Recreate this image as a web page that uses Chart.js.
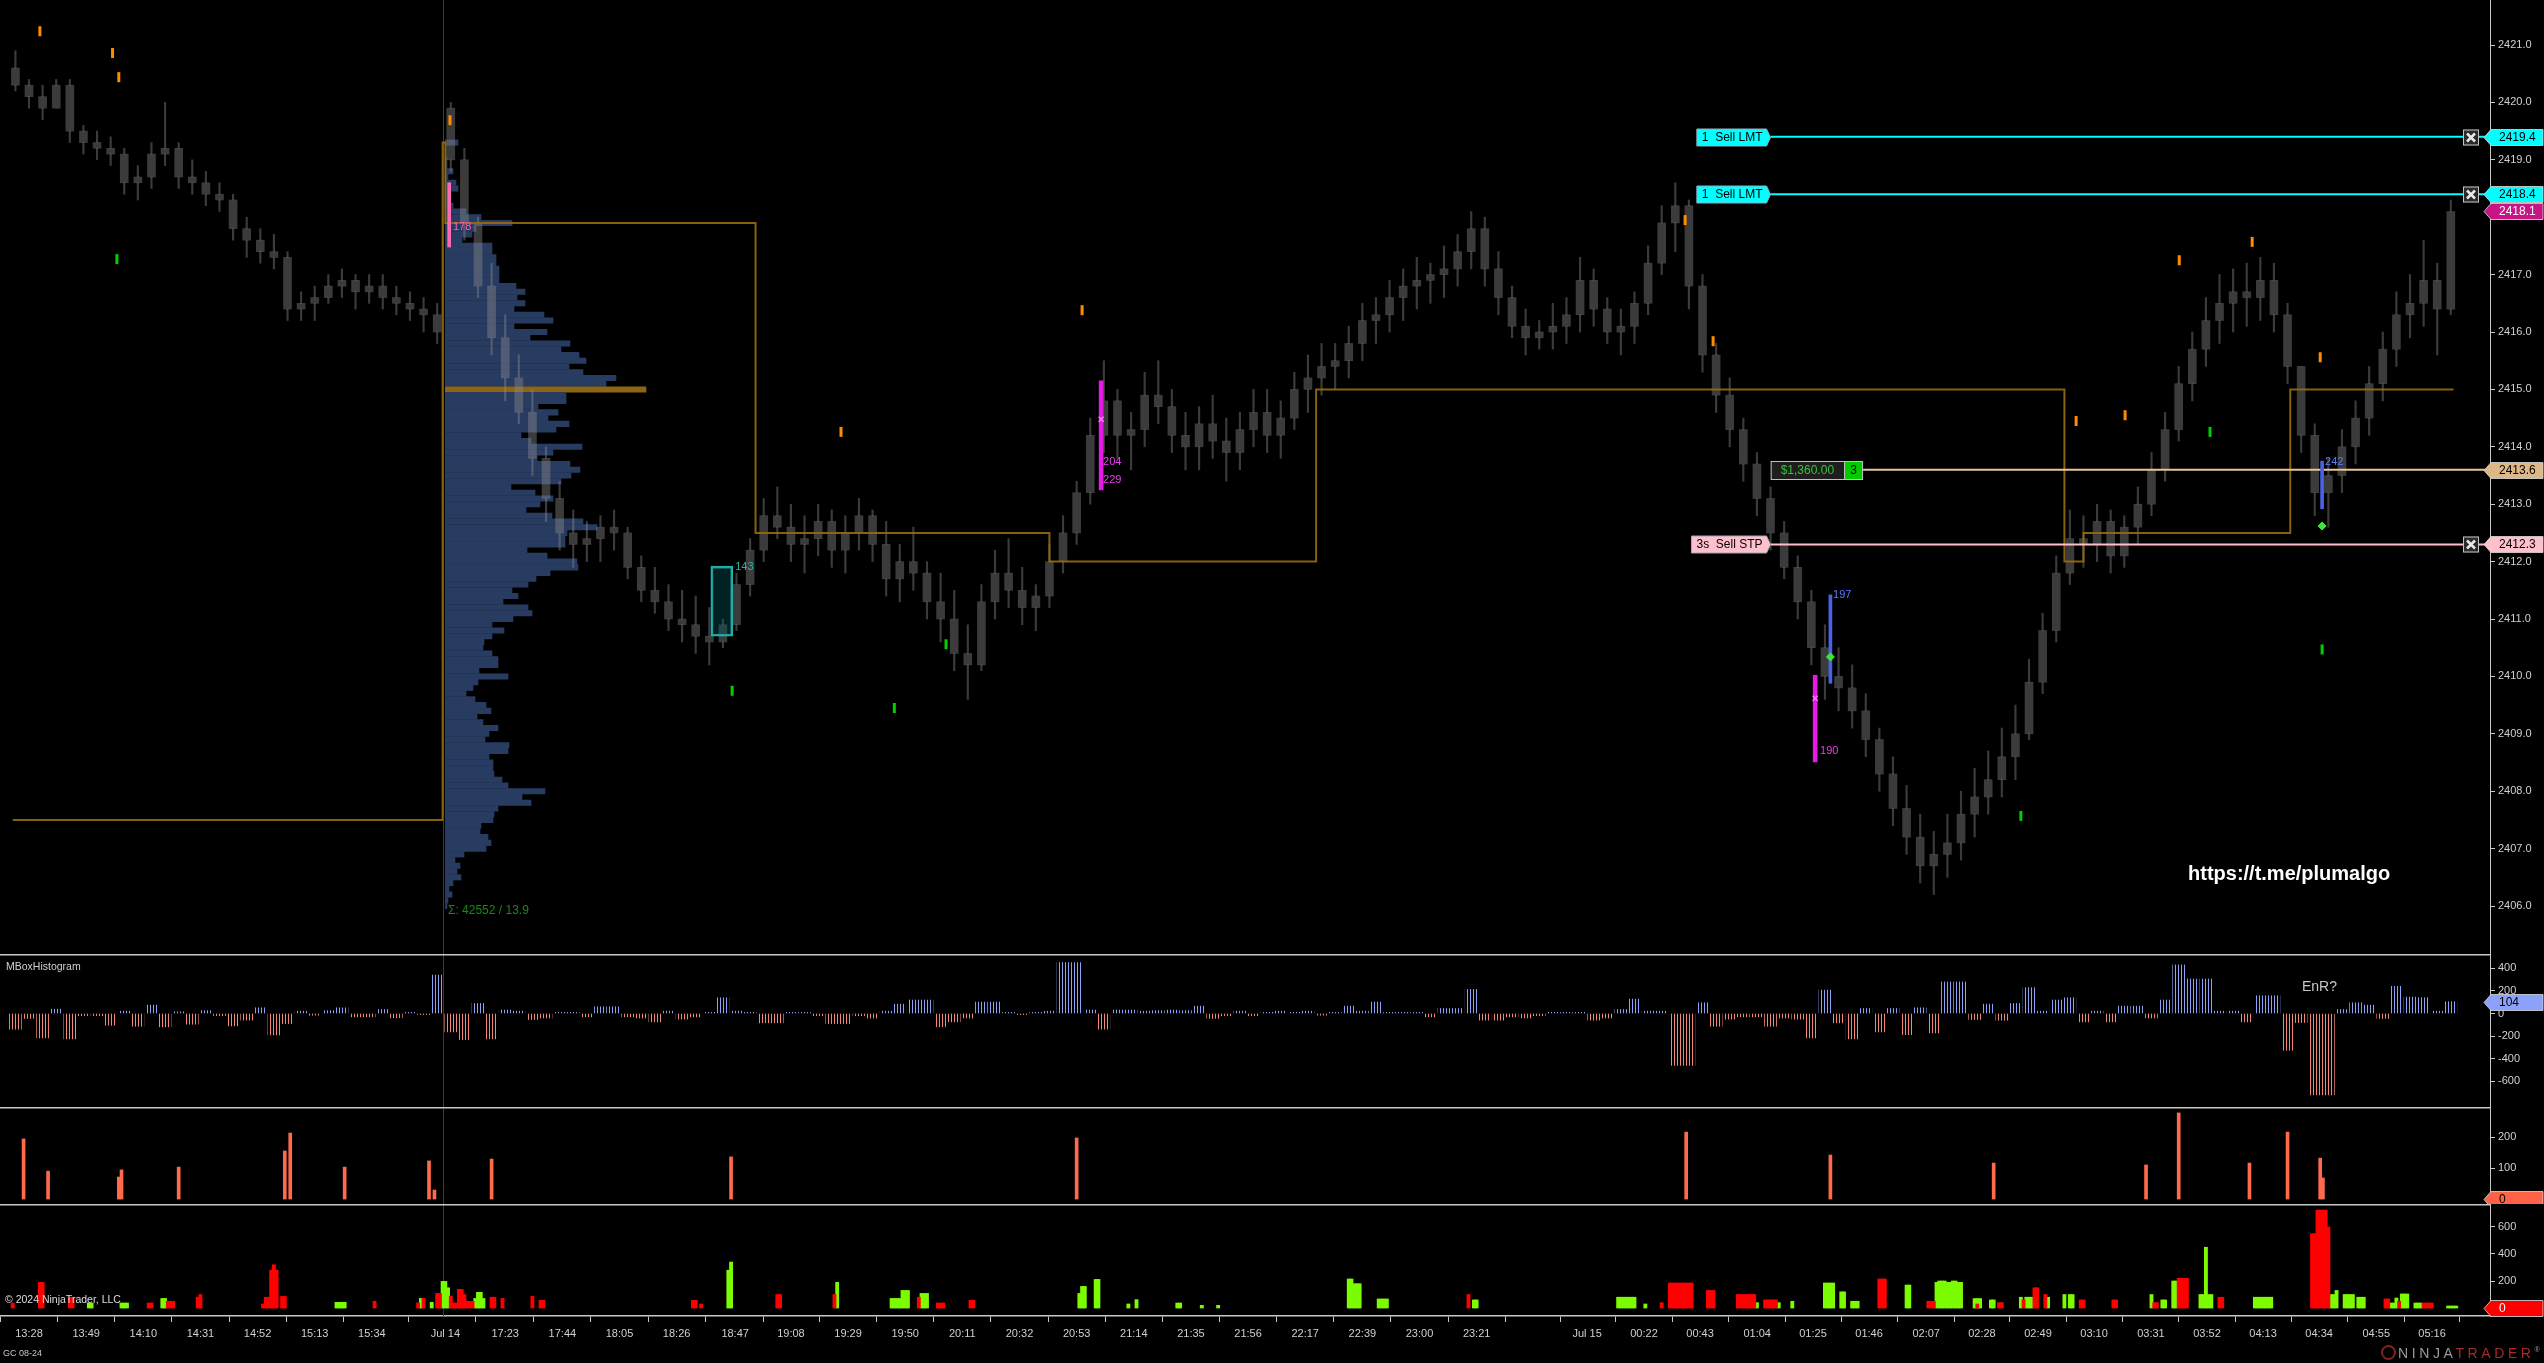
<!DOCTYPE html>
<html>
<head>
<meta charset="utf-8">
<title>GC 08-24</title>
<script src="https://cdn.jsdelivr.net/npm/chart.js@4.4.1/dist/chart.umd.min.js"></script>
<style>
  html, body { margin: 0; padding: 0; background: #000; }
  #wrap { position: relative; width: 2544px; height: 1363px; background: #000; overflow: hidden;
          font-family: "Liberation Sans", Arial, sans-serif; }
  #wrap canvas { position: absolute; left: 0; }
  .txt { position: absolute; white-space: nowrap; line-height: 1; }
</style>
</head>
<body>
<div id="wrap">
  <canvas id="profile" width="2000" height="954" style="left:445px;top:0;z-index:1"></canvas>
  <canvas id="price" width="2544" height="954" style="top:0;z-index:2"></canvas>
  <canvas id="mbox" width="2544" height="153" style="top:954px"></canvas>
  <canvas id="spikes" width="2544" height="97" style="top:1107px"></canvas>
  <canvas id="vol" width="2544" height="159" style="top:1204px"></canvas>

  <div class="txt" style="left:448px;top:904px;font-size:12px;color:#138c13;z-index:3">Σ: 42552 / 13.9</div>
  <div class="txt" style="left:2188px;top:863px;font-size:20px;font-weight:bold;color:#fff;z-index:3">https://t.me/plumalgo</div>
  <div class="txt" style="left:6px;top:961px;font-size:10.5px;color:#d0d0d0;z-index:3">MBoxHistogram</div>
  <div class="txt" style="left:2302px;top:979px;font-size:14px;color:#c8c8c8;z-index:3">EnR?</div>
  <div class="txt" style="left:5px;top:1294px;font-size:10.5px;color:#dcdcdc;z-index:3">© 2024 NinjaTrader, LLC</div>
  <div class="txt" style="left:3px;top:1349px;font-size:9px;color:#c8c8c8;z-index:3">GC 08-24</div>
  <div class="txt" style="left:2381px;top:1345px;width:11px;height:11px;border:2px solid #7a2424;border-radius:50%;z-index:3"></div>
  <div class="txt" style="left:2398px;top:1346px;font-size:14px;letter-spacing:3.6px;color:#9a9a9a;z-index:3">NINJA<span style="color:#a52a2a">TRADER</span><span style="font-size:7px;vertical-align:top">®</span></div>
</div>

<script>
// ---------- data (x values are bar numbers, one bar per minute) ----------
const tickPos = [0, 21, 42, 63, 84, 105, 126, 153, 175, 196, 217, 238, 259.5, 280, 301, 322, 343, 364, 385, 406,
  427, 448, 469, 490, 511, 532, 553, 572.6, 593.5, 614.1, 635.1, 655.6, 676.2, 697.2, 717.7, 738.3, 758.9,
  779.8, 800.4, 821, 841.6, 862.6, 883.1];
const tickLabels = ['13:28', '13:49', '14:10', '14:31', '14:52', '15:13', '15:34', 'Jul 14', '17:23', '17:44',
  '18:05', '18:26', '18:47', '19:08', '19:29', '19:50', '20:11', '20:32', '20:53', '21:14', '21:35', '21:56',
  '22:17', '22:39', '23:00', '23:21', '', 'Jul 15', '00:22', '00:43', '01:04', '01:25', '01:46', '02:07',
  '02:28', '02:49', '03:10', '03:31', '03:52', '04:13', '04:34', '04:55', '05:16'];
const priceTicks = [2406, 2407, 2408, 2409, 2410, 2411, 2412, 2413, 2414, 2415, 2416, 2417, 2418, 2419, 2420, 2421];
const sessionBreak = 152;

// 5-minute candles, Friday session (first bar -5) and Sunday session (first bar 155)
const sessionStart = [-5, 155];
const sessionOpen = [2420.6, 2419.9];
const fridayClose = [2420.3, 2420.1, 2419.9, 2420.3, 2419.5, 2419.3, 2419.2, 2419.1, 2418.6, 2418.7,
  2419.1, 2419.2, 2418.7, 2418.6, 2418.4, 2418.3, 2417.8, 2417.6, 2417.4, 2417.3,
  2416.4, 2416.5, 2416.6, 2416.8, 2416.9, 2416.7, 2416.8, 2416.6, 2416.5, 2416.4, 2416.3, 2416.0];
const fridayHigh = [2420.9, 2420.4, 2420.3, 2420.4, 2420.4, 2419.6, 2419.5, 2419.4, 2419.2, 2418.9,
  2419.3, 2420.0, 2419.3, 2419.0, 2418.8, 2418.6, 2418.4, 2418.0, 2417.8, 2417.7,
  2417.4, 2416.7, 2416.8, 2417.0, 2417.1, 2417.0, 2417.0, 2417.0, 2416.8, 2416.7, 2416.6, 2416.5];
const fridayLow = [2420.2, 2419.9, 2419.7, 2419.9, 2419.3, 2419.1, 2419.0, 2418.9, 2418.4, 2418.3,
  2418.5, 2418.9, 2418.5, 2418.4, 2418.2, 2418.1, 2417.6, 2417.3, 2417.2, 2417.1,
  2416.2, 2416.2, 2416.2, 2416.5, 2416.6, 2416.4, 2416.5, 2416.4, 2416.3, 2416.2, 2416.0, 2415.8];
const sundayClose = [2419.0, 2417.9, 2416.8, 2415.9, 2415.2, 2414.6, 2413.8, 2413.1, 2412.5, 2412.3,
  2412.4, 2412.6, 2412.5, 2411.9, 2411.5, 2411.3, 2411.0, 2410.9, 2410.7, 2410.6,
  2410.9, 2411.6, 2412.2, 2412.8, 2412.6, 2412.3, 2412.4, 2412.7, 2412.2, 2412.5,
  2412.8, 2412.3, 2411.7, 2412.0, 2411.8, 2411.3, 2411.0, 2410.4, 2410.2, 2411.3,
  2411.8, 2411.5, 2411.2, 2411.4, 2412.0, 2412.5, 2413.2, 2414.2, 2414.8, 2414.2,
  2414.3, 2414.9, 2414.7, 2414.2, 2414.0, 2414.4, 2414.1, 2413.9, 2414.3, 2414.6,
  2414.2, 2414.5, 2415.0, 2415.2, 2415.4, 2415.5, 2415.8, 2416.2, 2416.3, 2416.6,
  2416.8, 2416.9, 2417.0, 2417.1, 2417.4, 2417.8, 2417.1, 2416.6, 2416.1, 2415.9,
  2416.0, 2416.1, 2416.3, 2416.9, 2416.4, 2416.0, 2416.1, 2416.5, 2417.2, 2417.9,
  2418.2, 2416.8, 2415.6, 2414.9, 2414.3, 2413.7, 2413.1, 2412.5, 2411.9, 2411.3,
  2410.5, 2410.0, 2409.8, 2409.4, 2408.9, 2408.3, 2407.7, 2407.2, 2406.7, 2406.9,
  2407.1, 2407.6, 2407.9, 2408.2, 2408.6, 2409.0, 2409.9, 2410.8, 2411.8, 2412.4,
  2412.3, 2412.7, 2412.1, 2412.6, 2413.0, 2413.6, 2414.3, 2415.1, 2415.7, 2416.2,
  2416.5, 2416.7, 2416.6, 2416.9, 2416.3, 2415.4, 2414.2, 2413.2, 2413.5, 2414.0,
  2414.5, 2415.1, 2415.7, 2416.3, 2416.5, 2416.9, 2416.4, 2418.1];
const sundayHigh = [2420.0, 2419.2, 2418.0, 2417.2, 2416.3, 2415.6, 2415.0, 2414.0, 2413.4, 2412.9,
  2412.7, 2412.8, 2412.9, 2412.6, 2412.1, 2411.9, 2411.6, 2411.5, 2411.4, 2411.2,
  2411.0, 2411.8, 2412.4, 2413.1, 2413.3, 2413.0, 2412.8, 2413.0, 2412.9, 2412.8,
  2413.1, 2412.9, 2412.7, 2412.3, 2412.6, 2412.0, 2411.8, 2411.5, 2410.9, 2411.6,
  2412.2, 2412.4, 2411.9, 2411.6, 2412.3, 2412.8, 2413.4, 2414.5, 2415.5, 2415.0,
  2414.6, 2415.3, 2415.5, 2415.0, 2414.6, 2414.7, 2414.9, 2414.5, 2414.6, 2415.0,
  2415.0, 2414.8, 2415.3, 2415.6, 2415.8, 2415.8, 2416.1, 2416.5, 2416.6, 2416.9,
  2417.1, 2417.3, 2417.2, 2417.5, 2417.7, 2418.1, 2418.0, 2417.4, 2416.8, 2416.4,
  2416.2, 2416.5, 2416.6, 2417.3, 2417.1, 2416.6, 2416.4, 2416.7, 2417.5, 2418.2,
  2418.6, 2418.3, 2417.0, 2415.8, 2415.2, 2414.5, 2413.9, 2413.3, 2412.7, 2412.1,
  2411.5, 2410.9, 2410.5, 2410.2, 2409.7, 2409.1, 2408.6, 2408.1, 2407.6, 2407.3,
  2407.6, 2408.0, 2408.4, 2408.7, 2409.1, 2409.5, 2410.3, 2411.1, 2412.1, 2412.9,
  2412.8, 2413.0, 2412.9, 2412.8, 2413.3, 2413.9, 2414.6, 2415.4, 2416.0, 2416.6,
  2417.0, 2417.1, 2417.2, 2417.3, 2417.2, 2416.5, 2415.4, 2414.4, 2413.8, 2414.3,
  2414.8, 2415.4, 2416.0, 2416.7, 2417.0, 2417.6, 2417.2, 2418.3];
const sundayLow = [2418.8, 2417.6, 2416.6, 2415.6, 2414.8, 2414.4, 2413.5, 2412.7, 2412.2, 2411.9,
  2412.0, 2412.0, 2412.2, 2411.7, 2411.3, 2411.1, 2410.8, 2410.6, 2410.4, 2410.2,
  2410.5, 2410.8, 2411.4, 2412.0, 2412.4, 2412.0, 2411.8, 2412.1, 2411.9, 2411.8,
  2412.2, 2412.0, 2411.4, 2411.3, 2411.5, 2411.0, 2410.6, 2410.1, 2409.6, 2410.1,
  2411.0, 2411.2, 2410.9, 2410.8, 2411.2, 2411.8, 2412.3, 2413.0, 2413.9, 2413.8,
  2413.6, 2414.0, 2414.4, 2413.9, 2413.6, 2413.6, 2413.8, 2413.4, 2413.6, 2414.0,
  2413.9, 2413.8, 2414.3, 2414.6, 2414.9, 2415.0, 2415.2, 2415.5, 2415.8, 2416.0,
  2416.2, 2416.4, 2416.5, 2416.6, 2416.8, 2417.1, 2416.8, 2416.3, 2415.9, 2415.6,
  2415.7, 2415.7, 2415.8, 2416.0, 2416.1, 2415.8, 2415.6, 2415.8, 2416.3, 2417.0,
  2417.4, 2416.4, 2415.3, 2414.6, 2414.0, 2413.4, 2412.8, 2412.2, 2411.7, 2411.0,
  2410.2, 2409.6, 2409.4, 2409.1, 2408.6, 2408.0, 2407.4, 2406.9, 2406.4, 2406.2,
  2406.5, 2406.8, 2407.2, 2407.6, 2407.9, 2408.2, 2408.9, 2409.7, 2410.6, 2411.6,
  2411.9, 2412.0, 2411.8, 2411.9, 2412.3, 2412.8, 2413.4, 2414.1, 2414.8, 2415.4,
  2415.8, 2416.0, 2416.1, 2416.2, 2416.0, 2415.1, 2413.9, 2412.8, 2412.6, 2413.2,
  2413.7, 2414.2, 2414.8, 2415.4, 2415.9, 2416.1, 2415.6, 2416.3];

// volume profile of the Sunday session, one row per 0.1 from 2419.3 down
const profileTop = 2419.3;
const profileStep = 0.1;
const profileVol = [65, 5, 5, 10, 10, 40, 15, 55, 65, 25,
  25, 40, 105, 180, 335, 155, 135, 85, 235, 235,
  255, 255, 270, 270, 270, 355, 400, 360, 400, 345,
  495, 540, 345, 510, 425, 625, 580, 670, 705, 620,
  690, 855, 805, 1005, 605, 605, 465, 565, 515, 620,
  555, 380, 430, 685, 540, 460, 625, 675, 630, 580,
  330, 450, 540, 475, 405, 535, 690, 760, 610, 600,
  600, 410, 510, 660, 665, 525, 455, 415, 335, 365,
  290, 415, 435, 340, 235, 295, 235, 195, 190, 235,
  265, 265, 170, 315, 165, 140, 105, 150, 205, 230,
  160, 190, 265, 220, 200, 320, 315, 220, 240, 240,
  245, 285, 315, 500, 385, 430, 265, 245, 240, 180,
  175, 215, 230, 205, 95, 50, 75, 60, 80, 40,
  20, 35, 15, 10];

// session value-area / POC step line [bar, price]
const vaLine = [[-6, 2407.5], [152, 2419.3], [153, 2417.9], [267, 2412.5], [375, 2412.0],
  [473, 2415.0], [748, 2412.0], [755, 2412.5], [831, 2415.0], [891, 2415.0]];

// working orders and position
const orderPrices = [2419.4, 2418.4, 2412.3];
const orderText = ['1  Sell LMT', '1  Sell LMT', '3s  Sell STP'];
const orderStart = 640;
const positionPrice = 2413.6;
const positionPnl = '$1,360.00';
const positionQty = '3';
const positionStart = 674;
const lastPrice = 2418.1;

// delta markers [bar, low, high] and labels [bar, price, text]
const pinkDelta = [[154.4, 2417.48, 2418.6]];
const magentaDelta = [[394, 2413.25, 2415.15], [656.4, 2408.51, 2410.02]];
const blueDelta = [[662, 2409.88, 2411.42], [842.7, 2412.92, 2413.75]];
const tealBox = [[254.6, 2410.7, 2411.92]];
const greenDiamonds = [[662, 2410.34], [842.7, 2412.62]];
const deltaCrosses = [[394, 2414.48], [656.4, 2409.62]];
const deltaText = [[155.8, 2417.83, '178'], [259.5, 2411.91, '143'], [394.7, 2413.73, '204'],
  [394.7, 2413.42, '229'], [663, 2411.42, '197'], [658.2, 2408.7, '190'], [843.8, 2413.73, '242']];
const orangeMarks = [[4, 2421.24], [30.7, 2420.86], [33, 2420.44], [154.7, 2419.69], [298.4, 2414.26],
  [387, 2416.38], [608.6, 2417.95], [618.9, 2415.84], [752.3, 2414.45], [770.3, 2414.55],
  [790.2, 2417.25], [817, 2417.57], [842, 2415.56]];
const greenMarks = [[32.3, 2417.27], [258.4, 2409.75], [318, 2409.45], [337, 2410.56],
  [801.5, 2414.26], [842.7, 2410.47], [732, 2407.57]];

// MBoxHistogram, one value per 5-minute candle
const mboxFriday = [-139, -44, -216, 38, -225, -20, -20, -104, 20, -113, 74, -118, 15, -95, 25, -20,
  -110, -59, 50, -190, -89, 20, -15, 25, 50, -30, -30, 35, -38, 10, -10, 340];
const mboxSunday = [-163, -231, 89, -225, 30, 20, -53, -40, 10, 10,
  -30, 59, 59, -30, -40, -74, 20, -50, -30, 10,
  139, 20, 10, -83, -83, 10, 10, -20, -89, -89,
  -20, -40, 20, 83, 119, 119, -118, -74, -40, 101,
  101, 10, -10, 10, 20, 450, 450, 30, -139, 30,
  30, 20, 25, 30, 25, 65, -44, -20, 20, -20,
  10, 20, 10, 20, -15, 10, 65, 20, 101, 10,
  10, 10, -30, 44, 44, 213, -59, -59, -30, -40,
  -20, 10, 10, 10, -59, -40, 35, 127, 20, 20,
  -459, -459, 95, -113, -50, -30, -30, -113, -40, -50,
  -216, 207, -83, -225, 44, -163, 44, -187, 50, -172,
  279, 279, -53, 83, -60, 89, 228, 20, 119, 139,
  -74, 20, -74, 65, 65, -40, 119, 430, 305, 305,
  20, 20, -74, 157, 157, -326, -80, -720, -720, 35,
  95, 74, -44, 240, 145, 140, 20, 104];

// third panel spikes [bar, value]
const spikeSeries = [[-2, 194], [7, 90], [33, 71], [34, 94], [55, 103], [94, 155], [96, 213], [116, 103],
  [147, 123], [149, 29], [170, 129], [258, 136], [385, 197], [609, 216], [662, 142], [722, 116],
  [778, 110], [790, 278], [816, 116], [830, 216], [842, 132], [843, 68]];

// bottom panel volume bars [bar, volume]
const buyVolume = [[22, 37], [23, 37], [34, 37], [35, 37], [36, 37], [49, 71], [50, 71], [113, 42], [114, 42],
  [115, 42], [116, 42], [144, 71], [148, 42], [152, 197], [153, 197], [154, 150], [164, 71], [165, 116],
  [166, 116], [167, 71], [257, 280], [258, 340], [297, 190], [317, 71], [318, 71], [319, 71], [320, 71],
  [321, 130], [322, 130], [323, 130], [328, 108], [329, 108], [330, 108], [386, 108], [387, 160], [388, 160],
  [392, 212], [393, 212], [404, 30], [407, 62], [422, 37], [423, 37], [431, 20], [437, 20], [485, 215],
  [486, 215], [487, 180], [488, 180], [489, 180], [496, 67], [497, 67], [498, 67], [499, 67], [531, 60],
  [532, 60], [584, 80], [585, 80], [586, 80], [587, 80], [588, 80], [589, 80], [590, 80], [594, 30],
  [635, 40], [643, 40], [648, 50], [660, 185], [661, 185], [662, 185], [663, 185], [666, 120], [667, 120],
  [670, 50], [671, 50], [672, 50], [690, 170], [691, 170], [701, 190], [702, 200], [703, 200], [704, 200],
  [705, 190], [706, 190], [707, 200], [708, 200], [709, 190], [710, 190], [715, 70], [716, 70], [717, 70],
  [721, 60], [722, 60], [732, 80], [734, 80], [735, 80], [736, 80], [742, 80], [748, 100], [750, 100],
  [751, 100], [780, 100], [784, 60], [785, 60], [788, 200], [789, 200], [798, 100], [799, 100], [800, 450],
  [801, 100], [802, 100], [818, 80], [819, 80], [820, 80], [821, 80], [822, 80], [823, 80], [824, 80],
  [846, 100], [847, 100], [848, 130], [851, 100], [852, 100], [853, 100], [854, 100], [856, 80], [857, 80],
  [858, 80], [868, 37], [869, 37], [870, 74], [872, 104], [873, 104], [874, 104], [877, 37], [878, 37],
  [879, 37], [889, 15], [890, 15], [891, 15], [892, 15]];
const sellVolume = [[-6, 37], [4, 190], [5, 190], [15, 80], [16, 80], [44, 37], [45, 37], [51, 50], [52, 50],
  [53, 50], [62, 80], [63, 100], [86, 30], [87, 80], [88, 80], [89, 280], [90, 320], [91, 280], [93, 86],
  [94, 86], [127, 50], [143, 37], [145, 71], [150, 108], [151, 108], [155, 89], [156, 37], [157, 37],
  [158, 138], [159, 138], [160, 100], [161, 50], [162, 50], [163, 50], [170, 80], [171, 80], [174, 71],
  [185, 86], [188, 57], [189, 57], [244, 57], [245, 57], [247, 30], [275, 100], [276, 100], [296, 100],
  [327, 80], [334, 37], [335, 37], [336, 37], [346, 57], [347, 57], [529, 100], [600, 40], [603, 185],
  [604, 185], [605, 185], [606, 185], [607, 185], [608, 185], [609, 185], [610, 185], [611, 185], [617, 130],
  [618, 130], [619, 130], [628, 100], [629, 100], [630, 100], [631, 100], [632, 100], [633, 100], [634, 100],
  [638, 60], [639, 60], [640, 60], [641, 60], [642, 60], [680, 215], [681, 215], [682, 215], [698, 50],
  [699, 50], [700, 50], [716, 30], [724, 40], [725, 40], [733, 60], [737, 150], [738, 150], [741, 100],
  [754, 60], [755, 60], [766, 60], [767, 60], [781, 40], [782, 40], [790, 220], [791, 220], [792, 220],
  [793, 220], [805, 80], [806, 80], [839, 550], [840, 550], [841, 725], [842, 725], [843, 725], [844, 725],
  [845, 600], [866, 67], [867, 67], [871, 50], [880, 37], [881, 37], [882, 37], [883, 37]];

// ---------- chart setup ----------
Chart.defaults.font.family = '"Liberation Sans", Arial, sans-serif';
Chart.defaults.font.size = 11;
Chart.defaults.color = '#d0d0d0';

const X_MIN = -10.66, X_MAX = 904.4;
const AXIS_W = 54;
const AXIS_COLOR = '#c8c8c8';
const FONT = '"Liberation Sans", Arial, sans-serif';

function buildCandles(start, open0, close, high, low) {
  return close.map((c, i) => {
    const o = i ? close[i - 1] : open0;
    return { x: start + 5 * i, o, c, h: Math.max(high[i], o, c), l: Math.min(low[i], o, c) };
  });
}
const candles = buildCandles(sessionStart[0], sessionOpen[0], fridayClose, fridayHigh, fridayLow)
  .concat(buildCandles(sessionStart[1], sessionOpen[1], sundayClose, sundayHigh, sundayLow));
const mbox = mboxFriday.map((v, i) => ({ x: sessionStart[0] + 5 * i, y: v }))
  .concat(mboxSunday.map((v, i) => ({ x: sessionStart[1] + 5 * i, y: v })));

function timeScale(show) {
  const s = { type: 'linear', min: X_MIN, max: X_MAX, offset: false, display: show, grid: { display: false } };
  if (show) {
    Object.assign(s, {
      afterBuildTicks: sc => { sc.ticks = tickPos.map(v => ({ value: v })); },
      afterFit: sc => { sc.height = 47; sc.paddingLeft = 0; sc.paddingRight = 0; },
      ticks: { autoSkip: false, maxRotation: 0, padding: 5, color: '#d0d0d0', font: { size: 11 },
               callback: (v, i) => tickLabels[i] },
      grid: { display: true, drawOnChartArea: false, drawTicks: true, tickLength: 6, color: AXIS_COLOR },
      border: { display: true, color: AXIS_COLOR, width: 1.5 }
    });
  }
  return s;
}

function valueScale(min, max, ticks, fmt) {
  return {
    type: 'linear', position: 'right', min, max,
    afterBuildTicks: sc => { sc.ticks = ticks.map(v => ({ value: v })); },
    afterFit: sc => { sc.width = AXIS_W; sc.paddingTop = 0; sc.paddingBottom = 0; },
    ticks: { color: '#d0d0d0', font: { size: 11 }, padding: 3, callback: fmt },
    grid: { display: true, drawOnChartArea: false, drawTicks: true, tickLength: 5, color: AXIS_COLOR },
    border: { display: true, color: AXIS_COLOR, width: 1 }
  };
}

function baseOptions(yScale, showTime) {
  return {
    responsive: false, animation: false, devicePixelRatio: 1, events: [],
    layout: { padding: 0, autoPadding: false },
    plugins: { legend: { display: false }, tooltip: { enabled: false } },
    scales: { x: timeScale(showTime), y: yScale }
  };
}

function drawSessionLine(chart) {
  const { ctx, chartArea, scales: { x } } = chart;
  const px = Math.round(x.getPixelForValue(sessionBreak)) + 0.5;
  ctx.save();
  ctx.strokeStyle = '#3a3a3a'; ctx.lineWidth = 1;
  ctx.beginPath(); ctx.moveTo(px, chartArea.top); ctx.lineTo(px, chartArea.bottom); ctx.stroke();
  ctx.restore();
}

function drawTopRule(chart) {
  const { ctx, chartArea } = chart;
  ctx.save();
  ctx.strokeStyle = AXIS_COLOR; ctx.lineWidth = 1.5;
  ctx.beginPath(); ctx.moveTo(0, chartArea.top + 0.75); ctx.lineTo(chartArea.right, chartArea.top + 0.75); ctx.stroke();
  ctx.restore();
}

function drawFlag(chart, value, text, fill, color) {
  const { ctx } = chart;
  const ax = chart.scales.y.left;
  const py = Math.round(chart.scales.y.getPixelForValue(value)) + 0.5;
  ctx.save();
  ctx.beginPath();
  ctx.moveTo(ax - 6, py); ctx.lineTo(ax + 1, py - 8); ctx.lineTo(ax + 53, py - 8);
  ctx.lineTo(ax + 53, py + 8); ctx.lineTo(ax + 1, py + 8); ctx.closePath();
  ctx.fillStyle = fill; ctx.fill();
  ctx.strokeStyle = 'rgba(210,210,210,0.85)'; ctx.lineWidth = 1; ctx.stroke();
  ctx.fillStyle = color; ctx.font = '12px ' + FONT;
  ctx.textAlign = 'left'; ctx.textBaseline = 'middle';
  ctx.fillText(text, ax + 9, py + 0.5);
  ctx.restore();
}

function drawTag(ctx, tipX, y, text, fill) {
  const w = ctx.measureText(text).width + 9;
  const x1 = tipX - 4, x0 = x1 - w;
  ctx.beginPath();
  ctx.moveTo(x0, y - 8.5); ctx.lineTo(x1, y - 8.5); ctx.lineTo(tipX, y);
  ctx.lineTo(x1, y + 8.5); ctx.lineTo(x0, y + 8.5); ctx.closePath();
  ctx.fillStyle = fill; ctx.fill();
  ctx.strokeStyle = '#9ab'; ctx.lineWidth = 1; ctx.stroke();
  ctx.fillStyle = '#000';
  ctx.fillText(text, x0 + 5, y + 0.5);
}

function drawCloseBox(ctx, x0, y) {
  ctx.fillStyle = '#2a2a2a';
  ctx.fillRect(x0, y - 8, 16, 16);
  ctx.strokeStyle = '#c4c4c4'; ctx.lineWidth = 1;
  ctx.strokeRect(x0 + 0.5, y - 7.5, 15, 15);
  ctx.strokeStyle = '#e8e8e8'; ctx.lineWidth = 2.5;
  ctx.beginPath();
  ctx.moveTo(x0 + 4, y - 4); ctx.lineTo(x0 + 12, y + 4);
  ctx.moveTo(x0 + 12, y - 4); ctx.lineTo(x0 + 4, y + 4);
  ctx.stroke();
}

const deltaTextColor = ['#ff5fae', '#27b5a8', '#ee3cee', '#ee3cee', '#5b7cff', '#ee3cee', '#5b7cff'];
const orderFill = ['#00ffff', '#00ffff', '#ffc0cb'];

const priceDecor = {
  id: 'priceDecor',
  beforeDatasetsDraw(chart) { drawSessionLine(chart); },
  afterDatasetsDraw(chart) {
    const { ctx, chartArea, scales: { x, y } } = chart;
    ctx.save();
    ctx.textAlign = 'left'; ctx.textBaseline = 'middle';
    ctx.font = '11px ' + FONT;
    deltaText.forEach(([b, p, t], k) => {
      ctx.fillStyle = deltaTextColor[k];
      ctx.fillText(t, x.getPixelForValue(b), y.getPixelForValue(p));
    });
    ctx.font = '12px ' + FONT;
    orderPrices.forEach((p, k) => {
      const py = Math.round(y.getPixelForValue(p)) + 0.5;
      drawTag(ctx, x.getPixelForValue(orderStart), py, orderText[k], orderFill[k]);
      drawCloseBox(ctx, chartArea.right - 27, py);
    });
    // position tag: P&L box + quantity box
    const py = Math.round(y.getPixelForValue(positionPrice)) + 0.5;
    const qx1 = x.getPixelForValue(positionStart);
    const qx0 = qx1 - 19;
    const pw = ctx.measureText(positionPnl).width + 20;
    ctx.fillStyle = '#1e1e1e'; ctx.fillRect(qx0 - pw, py - 9.5, pw, 19);
    ctx.strokeStyle = '#c0c0c0'; ctx.lineWidth = 1; ctx.strokeRect(qx0 - pw + 0.5, py - 9, pw, 18);
    ctx.fillStyle = '#00cc00'; ctx.fillRect(qx0, py - 9.5, 19, 19);
    ctx.strokeRect(qx0 + 0.5, py - 9, 18, 18);
    ctx.textAlign = 'center';
    ctx.fillStyle = '#38c038'; ctx.fillText(positionPnl, qx0 - pw / 2, py + 0.5);
    ctx.fillStyle = '#000'; ctx.fillText(positionQty, qx0 + 9.5, py + 0.5);
    ctx.restore();
  },
  afterDraw(chart) {
    drawFlag(chart, orderPrices[0], orderPrices[0].toFixed(1), '#00ffff', '#000');
    drawFlag(chart, orderPrices[1], orderPrices[1].toFixed(1), '#00ffff', '#000');
    drawFlag(chart, lastPrice, lastPrice.toFixed(1), '#c71585', '#fff');
    drawFlag(chart, positionPrice, positionPrice.toFixed(1), '#deb887', '#000');
    drawFlag(chart, orderPrices[2], orderPrices[2].toFixed(1), '#ffc0cb', '#000');
  }
};

const PRICE_MIN = 2405.164, PRICE_MAX = 2421.784;
const CANDLE = 'rgba(140,140,140,0.42)';
const floating = (arr) => arr.map(([b, lo, hi]) => ({ x: b, y: [lo, hi] }));
const points = (arr) => arr.map(([b, p]) => ({ x: b, y: p }));
const orderLine = (p, start) => [{ x: start, y: p }, { x: X_MAX, y: p }];
const marker = (data, color, style, radius, width, order) => ({
  type: 'line', data: points(data), showLine: false, pointStyle: style, pointRadius: radius,
  pointRotation: style === 'line' ? 90 : 0, pointBorderColor: color, pointBackgroundColor: color,
  pointBorderWidth: width, order
});

new Chart(document.getElementById('price'), {
  type: 'bar',
  data: {
    datasets: [
      { type: 'line', data: points(vaLine), stepped: 'before', borderColor: 'rgba(150,108,14,0.9)',
        borderWidth: 2, pointRadius: 0, order: 8 },
      { data: candles.map(k => ({ x: k.x, y: [k.l, Math.min(k.o, k.c)] })), backgroundColor: CANDLE,
        barThickness: 1.5, grouped: false, order: 10 },
      { data: candles.map(k => ({ x: k.x, y: [Math.max(k.o, k.c), k.h] })), backgroundColor: CANDLE,
        barThickness: 1.5, grouped: false, order: 10 },
      { data: candles.map(k => ({ x: k.x, y: [k.o, k.c] })), backgroundColor: CANDLE,
        barThickness: 8, minBarLength: 1, grouped: false, order: 10 },
      { data: floating(tealBox), backgroundColor: 'rgba(0,95,95,0.35)', borderColor: '#23b0aa',
        borderWidth: 2, borderSkipped: false, barThickness: 22, grouped: false, order: 7 },
      { type: 'line', data: orderLine(orderPrices[0], orderStart), borderColor: '#00ffff', borderWidth: 2, pointRadius: 0, order: 6 },
      { type: 'line', data: orderLine(orderPrices[1], orderStart), borderColor: '#00ffff', borderWidth: 2, pointRadius: 0, order: 6 },
      { type: 'line', data: orderLine(orderPrices[2], orderStart), borderColor: '#ffc0cb', borderWidth: 2, pointRadius: 0, order: 6 },
      { type: 'line', data: orderLine(positionPrice, positionStart), borderColor: '#e8c49a', borderWidth: 2, pointRadius: 0, order: 6 },
      marker(orangeMarks, '#ff8c00', 'line', 5, 3, 5),
      marker(greenMarks, '#00d000', 'line', 5, 3, 5),
      { data: floating(pinkDelta), backgroundColor: '#ff69b4', barThickness: 3, grouped: false, order: 4 },
      { data: floating(magentaDelta), backgroundColor: '#e619e6', barThickness: 4, grouped: false, order: 4 },
      { data: floating(blueDelta), backgroundColor: '#4a62e6', barThickness: 3, grouped: false, order: 4 },
      marker(greenDiamonds, '#3ce63c', 'rectRot', 4, 1, 3),
      marker(deltaCrosses, '#ff80ff', 'crossRot', 3.5, 1.5, 3)
    ]
  },
  options: baseOptions(valueScale(PRICE_MIN, PRICE_MAX, priceTicks, v => v.toFixed(1)), false),
  plugins: [priceDecor]
});

// volume profile, drawn beneath the price canvas
const pocIndex = profileVol.indexOf(Math.max(...profileVol));
new Chart(document.getElementById('profile'), {
  type: 'bar',
  data: {
    datasets: [{
      data: profileVol.map((v, i) => ({ x: v, y: profileTop - i * profileStep })),
      backgroundColor: profileVol.map((v, i) => i === pocIndex ? 'rgb(140,102,22)' : 'rgb(40,60,98)'),
      barThickness: 5.4, grouped: false
    }]
  },
  options: {
    indexAxis: 'y', responsive: false, animation: false, devicePixelRatio: 1, events: [],
    layout: { padding: 0, autoPadding: false },
    plugins: { legend: { display: false }, tooltip: { enabled: false } },
    scales: {
      x: { type: 'linear', min: 0, max: 10000, display: false },
      y: { type: 'linear', min: PRICE_MIN, max: PRICE_MAX, offset: false, display: false }
    }
  }
});

// comb fill so each histogram column reads as a cluster of one-minute lines
function comb(canvasId, color) {
  const c = document.createElement('canvas');
  c.width = 3; c.height = 1;
  const g = c.getContext('2d');
  g.fillStyle = color; g.fillRect(0, 0, 1, 1);
  return document.getElementById(canvasId).getContext('2d').createPattern(c, 'repeat');
}
const upComb = comb('mbox', 'rgb(140,162,250)');
const downComb = comb('mbox', 'rgb(245,135,120)');

const lowerDecor = (flagValue, flagText, flagFill, flagColor) => ({
  id: 'lowerDecor',
  beforeDatasetsDraw(chart) { drawSessionLine(chart); },
  afterDraw(chart) {
    drawTopRule(chart);
    drawFlag(chart, flagValue, flagText, flagFill, flagColor);
  }
});

new Chart(document.getElementById('mbox'), {
  type: 'bar',
  data: {
    datasets: [{
      data: mbox,
      backgroundColor: c => (c.raw && c.raw.y < 0) ? downComb : upComb,
      barThickness: 12, grouped: false
    }]
  },
  options: baseOptions(valueScale(-827, 526, [400, 200, 0, -200, -400, -600], v => String(v)), false),
  plugins: [lowerDecor(mboxSunday[mboxSunday.length - 1], String(mboxSunday[mboxSunday.length - 1]), 'rgb(140,162,250)', '#000')]
});

new Chart(document.getElementById('spikes'), {
  type: 'bar',
  data: { datasets: [{ data: points(spikeSeries), backgroundColor: '#ff6a4d', barThickness: 3, grouped: false }] },
  options: baseOptions(valueScale(-16, 297, [100, 200], v => String(v)), false),
  plugins: [lowerDecor(0, '0', '#ff6347', '#000')]
});

new Chart(document.getElementById('vol'), {
  type: 'bar',
  data: {
    datasets: [
      { data: points(buyVolume), backgroundColor: '#7cfc00', barThickness: 3.2, grouped: false, order: 2 },
      { data: points(sellVolume), backgroundColor: '#ff0000', barThickness: 3.2, grouped: false, order: 1 }
    ]
  },
  options: baseOptions(valueScale(-59, 770, [200, 400, 600], v => String(v)), true),
  plugins: [lowerDecor(0, '0', '#ff0000', '#fff')]
});
</script>
</body>
</html>
